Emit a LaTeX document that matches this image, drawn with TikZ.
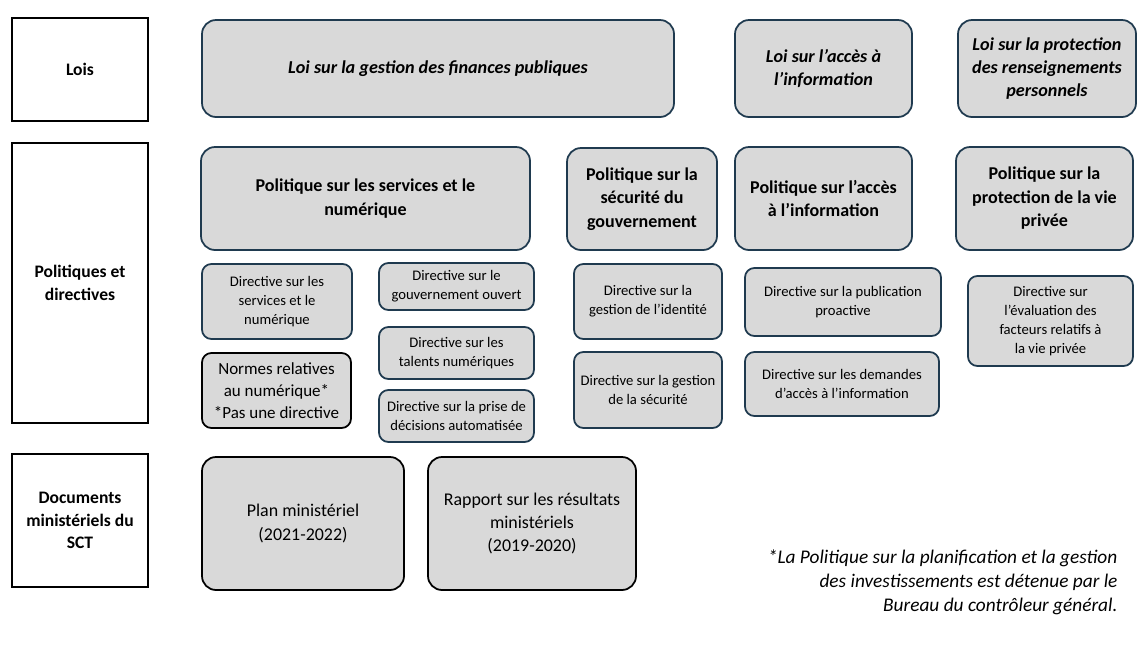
\documentclass[tikz,border=0pt]{standalone}
\usepackage{fontspec}
\setmainfont{Carlito}
\definecolor{boxfill}{HTML}{D9D9D9}
\definecolor{boxline}{HTML}{1F3A4F}
\begin{document}
\begin{tikzpicture}[
            x = 0.03cm, y = -0.03cm, % one unit per pixel
            every node/.style = {align=center, inner sep=2pt}
        ]

        \tikzstyle{label}=[draw=black, line width=1.6pt, font=\bfseries\fontsize{15}{19}\selectfont]
        \tikzstyle{box}=[draw=boxline, fill=boxfill, line width=1.5pt, rounded corners=12pt]
        \tikzstyle{loi}=[box, font=\bfseries\itshape\fontsize{15.5}{20}\selectfont]
        \tikzstyle{politique}=[box, font=\bfseries\fontsize{15.4}{20}\selectfont]
        \tikzstyle{directive}=[box, rounded corners=8pt, font=\fontsize{12.5}{16}\selectfont]
        \tikzstyle{document}=[box, draw=black, font=\fontsize{15.3}{20}\selectfont]

        \useasboundingbox (0,0) rectangle (1144,665);

        % rows
        \node[label, minimum width=136*0.03cm, minimum height=103*0.03cm] (lois) at (80,69.5) {Lois};
        \node[label, minimum width=136*0.03cm, minimum height=280*0.03cm] (politiques) at (80,283) {Politiques et\\directives};
        \node[label, minimum width=136*0.03cm, minimum height=133*0.03cm] (documents) at (80,520.5) {Documents\\ministériels du\\SCT};

        % laws
        \node[loi, minimum width=472*0.03cm, minimum height=97*0.03cm] (loi_finances) at (438,68.5) {Loi sur la gestion des finances publiques};
        \node[loi, minimum width=177*0.03cm, minimum height=97*0.03cm] (loi_acces) at (823.5,68.5) {Loi sur l’accès à\\l’information};
        \node[loi, minimum width=178*0.03cm, minimum height=97*0.03cm] (loi_protection) at (1047,68.5) {Loi sur la protection\\des renseignements\\personnels};

        % policies
        \node[politique, minimum width=329*0.03cm, minimum height=103*0.03cm] (pol_services) at (365.5,198.5) {Politique sur les services et le\\numérique};
        \node[politique, minimum width=150*0.03cm, minimum height=102*0.03cm] (pol_securite) at (642,199) {Politique sur la\\sécurité du\\gouvernement};
        \node[politique, minimum width=177*0.03cm, minimum height=103*0.03cm] (pol_acces) at (823.5,198.5) {Politique sur l’accès\\à l’information};
        \node[politique, minimum width=177*0.03cm, minimum height=103*0.03cm] (pol_privee) at (1044.5,198.5) {Politique sur la\\protection de la vie\\privée};

        % directives
        \node[directive, minimum width=150*0.03cm, minimum height=75*0.03cm] (dir_services) at (277,301.5) {Directive sur les\\services et le\\numérique};
        \node[directive, draw=black, minimum width=149*0.03cm, minimum height=75*0.03cm, font=\fontsize{14.5}{19}\selectfont] (normes) at (276.5,390.5) {Normes relatives\\au numérique*\\*Pas une directive};
        \node[directive, minimum width=155*0.03cm, minimum height=47*0.03cm] (dir_ouvert) at (456.5,286.5) {Directive sur le\\gouvernement ouvert};
        \node[directive, minimum width=155*0.03cm, minimum height=52*0.03cm] (dir_talents) at (456.5,353) {Directive sur les\\talents numériques};
        \node[directive, minimum width=155*0.03cm, minimum height=52*0.03cm] (dir_decisions) at (456.5,416) {Directive sur la prise de\\décisions automatisée};
        \node[directive, minimum width=148*0.03cm, minimum height=75*0.03cm] (dir_identite) at (648,301.5) {Directive sur la\\gestion de l’identité};
        \node[directive, minimum width=148*0.03cm, minimum height=76*0.03cm] (dir_securite) at (648,390) {Directive sur la gestion\\de la sécurité};
        \node[directive, minimum width=196*0.03cm, minimum height=68*0.03cm] (dir_publication) at (843,302) {Directive sur la publication\\proactive};
        \node[directive, minimum width=194*0.03cm, minimum height=64*0.03cm] (dir_demandes) at (842,384) {Directive sur les demandes\\d’accès à l’information};
        \node[directive, minimum width=165*0.03cm, minimum height=90*0.03cm] (dir_evaluation) at (1050.5,321) {Directive sur\\l’évaluation des\\facteurs relatifs à\\la vie privée};

        % departmental documents
        \node[document, minimum width=202*0.03cm, minimum height=133*0.03cm] (plan) at (303,523.5) {Plan ministériel\\(2021-2022)};
        \node[document, minimum width=208*0.03cm, minimum height=133*0.03cm] (rapport) at (532,523.5) {Rapport sur les résultats\\ministériels\\(2019-2020)};

        \node[anchor=north east, align=right, font=\itshape\fontsize{16.5}{20.5}\selectfont] (note) at (1120,547) {*La Politique sur la planification et la gestion\\des investissements est détenue par le\\Bureau du contrôleur général.};

    \end{tikzpicture}
\end{document}
